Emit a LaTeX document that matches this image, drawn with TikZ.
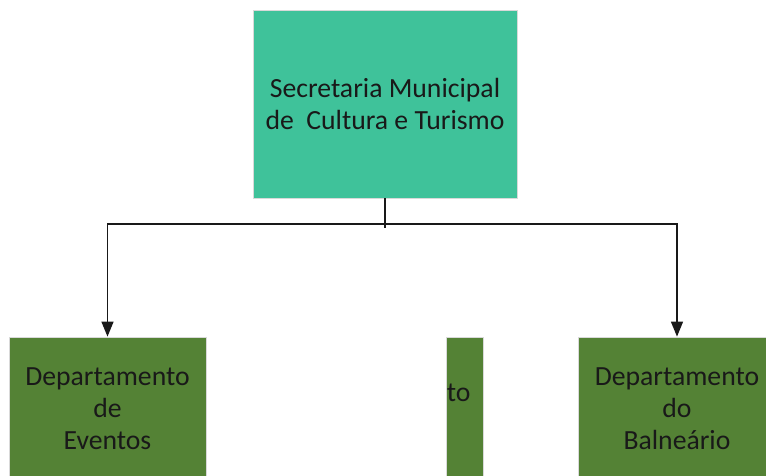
\documentclass[tikz,border=0pt]{standalone}
\usepackage{fontspec}
\setmainfont{Carlito}
\usepackage{tikz}
\usetikzlibrary{positioning, arrows.meta, calc}
\usepackage{xcolor}
\definecolor{sec-teal}{HTML}{3FC29A}
\definecolor{dept-green}{HTML}{548235}

\tikzset{
	box/.style={draw=black!15, line width=0.8pt, align=center, inner sep=0pt,
		font=\fontsize{27.7}{32}\selectfont, text=black!90},
	sec/.style={box, fill=sec-teal, minimum width=264, minimum height=188},
	dept/.style={box, fill=dept-green, minimum width=197, minimum height=144},
	link/.style={line width=1.4pt, black!90},
	arr/.style={link, -{Triangle[width=12pt,length=15pt]}}
}

\begin{document}
\begin{tikzpicture}[x=1pt, y=-1pt]
	\useasboundingbox (0,0) rectangle (766,476);
	\clip (0,0) rectangle (766,476);
	\node[sec] (secretaria) at (385,104) {Secretaria Municipal\\de\ \ Cultura e Turismo};
	\node[dept] (eventos) at (107.5,409) {Departamento\\de\\Eventos};
	\node[dept] (balneario) at (677,409) {Departamento\\do\\Balneário};
	\node[dept, minimum width=37, anchor=north east] (meio) at (484,337) {};
	\node[box, draw=none, anchor=base west] (meiotxt) at (446.5,401) {to};
	\coordinate (ramo) at (385,224);
	\draw[link] (secretaria.south) -- ($(ramo)+(0,4)$);
	\draw[arr] (ramo) -| (eventos.north);
	\draw[arr] (ramo) -| (balneario.north);
\end{tikzpicture}
\end{document}
